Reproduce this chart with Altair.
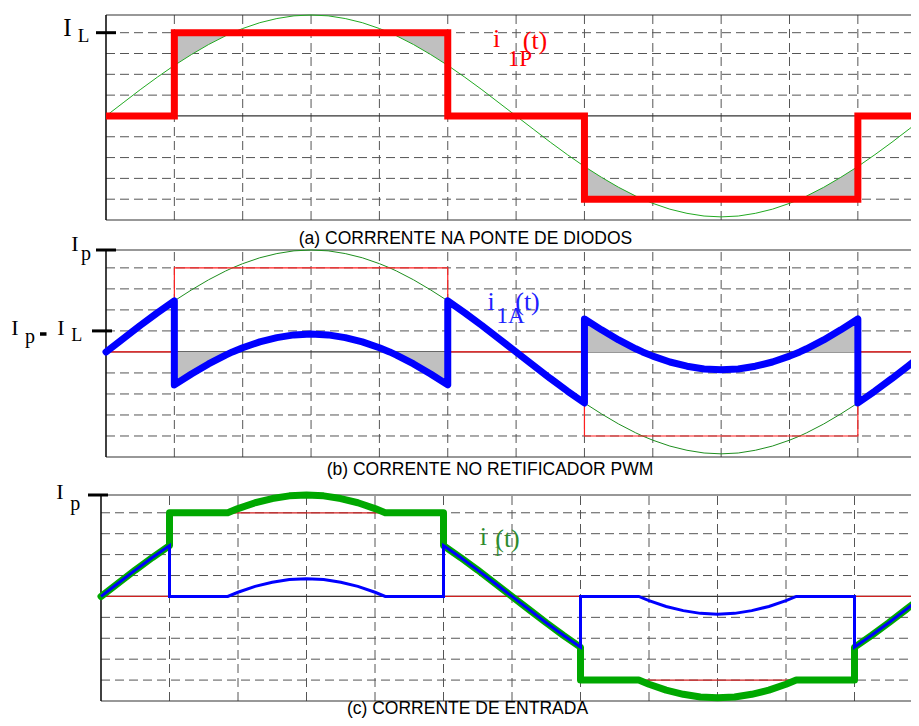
import altair as alt
import pandas as pd

# ---------------- values ----------------
I_P = 4.85          # peak of the sinusoidal input current (grid units)
I_L = 4.0           # level of the diode-bridge current
BOTTOM = -5.0       # lower frame of every panel

# sampling positions (1 grid unit = 30 electrical degrees)
t_grid = [i * 0.25 for i in range(49)]
sine_vals = [0.00, 0.63, 1.26, 1.86, 2.43, 2.95, 3.43, 3.85, 4.20, 4.48, 4.68, 4.81, 4.85,
             4.81, 4.68, 4.48, 4.20, 3.85, 3.43, 2.95, 2.43, 1.86, 1.26, 0.63, 0.00,
             -0.63, -1.26, -1.86, -2.43, -2.95, -3.43, -3.85, -4.20, -4.48, -4.68, -4.81, -4.85,
             -4.81, -4.68, -4.48, -4.20, -3.85, -3.43, -2.95, -2.43, -1.86, -1.26, -0.63, 0.00]
# points where the sine crosses +/- I_L
cross_t = [1.85, 4.15, 7.85, 10.15]
cross_v = [4.0, 4.0, -4.0, -4.0]

# square wave i_1P: segment bounds and levels
seg_bounds = [0, 1, 5, 7, 11, 12]
seg_level = [0, I_L, 0, -I_L, 0]

# shaded windows (sine inside the I_L band while the bridge conducts)
gray_windows = [(1, 1.85, I_L), (4.15, 5, I_L), (7, 7.85, -I_L), (10.15, 11, -I_L)]

grid_x = [1, 2, 3, 4, 5, 6, 7, 8, 9, 10, 11]
grid_y = [-4, -3, -2, -1, 1, 2, 3, 4]

# ---------------- tables ----------------
pts = sorted(zip(t_grid + cross_t, sine_vals + cross_v))


def seg_pts(a, b):
    return [(tt, v) for tt, v in pts if a - 1e-9 <= tt <= b + 1e-9]


df_sine = pd.DataFrame([{"x": tt, "y": v, "o": k} for k, (tt, v) in enumerate(pts)])

rows_red, rows_blue_b, rows_blue_c, rows_green_c = [], [], [], []
k = 0
for i, lev in enumerate(seg_level):
    a, b = seg_bounds[i], seg_bounds[i + 1]
    rows_red += [{"x": a, "y": lev, "o": 2 * i}, {"x": b, "y": lev, "o": 2 * i + 1}]
    for tt, v in seg_pts(a, b):
        k += 1
        rows_blue_b.append({"x": tt, "y": v - lev, "o": k})
        if lev > 0:
            bc = max(0.0, v - lev)
        elif lev < 0:
            bc = min(0.0, v - lev)
        else:
            bc = v
        rows_blue_c.append({"x": tt, "y": bc, "o": k})
        rows_green_c.append({"x": tt, "y": lev + bc, "o": k})

df_red = pd.DataFrame(rows_red)
df_blue_b = pd.DataFrame(rows_blue_b)
df_blue_c = pd.DataFrame(rows_blue_c)
df_green_c = pd.DataFrame(rows_green_c)

rows_ga, rows_gb = [], []
for g, (a, b, lev) in enumerate(gray_windows):
    for tt, v in seg_pts(a, b):
        rows_ga.append({"x": tt, "y": v, "y2": lev, "g": g})
        rows_gb.append({"x": tt, "y": v - lev, "y2": 0.0, "g": g})
df_gray_a = pd.DataFrame(rows_ga)
df_gray_b = pd.DataFrame(rows_gb)

df_vgrid = pd.DataFrame({"x": grid_x, "y0": BOTTOM, "y1": I_P})
df_hgrid = pd.DataFrame({"y": grid_y, "x0": 0, "x1": 12})
df_hframe = pd.DataFrame({"y": [I_P, 0.0, BOTTOM], "x0": 0, "x1": 12})
df_vframe = pd.DataFrame({"x": [0], "y0": [BOTTOM], "y1": [I_P]})
dummy = pd.DataFrame({"a": [0]})

# ---------------- scales ----------------
XS_AB = alt.Scale(domain=[0, 12], range=[0, 820.2], nice=False, zero=False)
XS_C = alt.Scale(domain=[0, 12], range=[-5, 817], nice=False, zero=False)
YS_A = alt.Scale(domain=[BOTTOM, I_P], range=[205, 0], nice=False, zero=False)
YS_B = alt.Scale(domain=[BOTTOM, I_P], range=[442, 235], nice=False, zero=False)
YS_C = alt.Scale(domain=[BOTTOM, I_P], range=[686, 480], nice=False, zero=False)

SERIF = "Liberation Serif"
SANS = "Liberation Sans"


def frame(xs, ys):
    vg = alt.Chart(df_vgrid).mark_rule(color="#555555", strokeWidth=1, strokeDash=[9, 5]).encode(
        x=alt.X("x:Q", scale=xs, axis=None), y=alt.Y("y0:Q", scale=ys, axis=None), y2="y1:Q")
    hg = alt.Chart(df_hgrid).mark_rule(color="#555555", strokeWidth=1, strokeDash=[9, 5]).encode(
        x=alt.X("x0:Q", scale=xs, axis=None), x2="x1:Q", y=alt.Y("y:Q", scale=ys, axis=None))
    hf = alt.Chart(df_hframe).mark_rule(color="#333333", strokeWidth=1.2).encode(
        x=alt.X("x0:Q", scale=xs, axis=None), x2="x1:Q", y=alt.Y("y:Q", scale=ys, axis=None))
    vf = alt.Chart(df_vframe).mark_rule(color="#111111", strokeWidth=1.6).encode(
        x=alt.X("x:Q", scale=xs, axis=None), y=alt.Y("y0:Q", scale=ys, axis=None), y2="y1:Q")
    return [vg, hg, hf, vf]


def line(df, xs, ys, color, width, cap="butt"):
    return alt.Chart(df).mark_line(color=color, strokeWidth=width, strokeCap=cap,
                                   strokeJoin="round" if cap == "round" else "miter").encode(
        x=alt.X("x:Q", scale=xs, axis=None), y=alt.Y("y:Q", scale=ys, axis=None), order="o:Q")


def gray(df, xs, ys):
    return alt.Chart(df).mark_area(color="#C0C0C0", opacity=1).encode(
        x=alt.X("x:Q", scale=xs, axis=None), y=alt.Y("y:Q", scale=ys, axis=None), y2="y2:Q",
        detail="g:N")


def tick(value, px0, px1, ys):
    return alt.Chart(pd.DataFrame({"y": [value]})).mark_rule(color="black", strokeWidth=3).encode(
        x=alt.value(px0), x2=alt.value(px1), y=alt.Y("y:Q", scale=ys, axis=None))


def label(txt, px, py, size, color="black", font=SERIF, baseline="alphabetic"):
    return alt.Chart(dummy).mark_text(text=txt, fontSize=size, font=font, color=color,
                                      align="center", baseline=baseline).encode(
        x=alt.value(px), y=alt.value(py))


def dash(px0, px1, py):
    return alt.Chart(dummy).mark_rule(color="black", strokeWidth=3.5).encode(
        x=alt.value(px0), x2=alt.value(px1), y=alt.value(py))


# ---------------- panel (a) ----------------
panel_a = alt.layer(
    *frame(XS_AB, YS_A),
    gray(df_gray_a, XS_AB, YS_A),
    line(df_sine, XS_AB, YS_A, "#22AA22", 1),
    line(df_red, XS_AB, YS_A, "#FF0000", 7),
    tick(I_L, -10, 10, YS_A),
    label("I", -38.5, 21, 25),
    label("L", -22.5, 27, 19),
    label("i", 390.5, 32, 26, "#FF0000"),
    label("(t)", 429, 34, 26, "#FF0000"),
    label("1P", 414, 51, 23, "#FF0000"),
    label("(a) CORRRENTE NA PONTE DE DIODOS", 359.5, 223.5, 17.5, "black", SANS, "middle"),
)

# ---------------- panel (b) ----------------
panel_b = alt.layer(
    *frame(XS_AB, YS_B),
    gray(df_gray_b, XS_AB, YS_B),
    line(df_sine, XS_AB, YS_B, "#1E8E1E", 1),
    line(df_red, XS_AB, YS_B, "#FF2020", 1.2),
    line(df_blue_b, XS_AB, YS_B, "#0000FF", 7, "round"),
    tick(I_P, -10, 10, YS_B),
    tick(1, -14, 6, YS_B),
    label("I", -31, 236, 22),
    label("p", -20, 245, 20),
    label("I", -91, 320, 22),
    label("p", -76, 328, 20),
    dash(-66, -59.5, 319),
    label("I", -45.2, 320, 22),
    label("L", -29.3, 326, 18),
    label("i", 385, 295, 26, "#2020FF"),
    label("(t)", 421.5, 295, 26, "#2020FF"),
    label("1A", 404.5, 308, 23, "#2020FF"),
    label("(b) CORRENTE NO RETIFICADOR PWM", 384, 455, 17.5, "black", SANS, "middle"),
)

# ---------------- panel (c) ----------------
panel_c = alt.layer(
    *frame(XS_C, YS_C),
    line(df_red, XS_C, YS_C, "#D02020", 1.2),
    line(df_green_c, XS_C, YS_C, "#00A800", 7, "round"),
    line(df_blue_c, XS_C, YS_C, "#0000FF", 3),
    tick(I_P, -18, 2, YS_C),
    label("I", -46, 484, 22),
    label("p", -30.7, 494.5, 20),
    label("i", 377.3, 530, 26, "#2E8B2E"),
    label("(t)", 401.5, 532, 26, "#2E8B2E"),
    label("1", 391.5, 541, 15, "#2E8B2E"),
    label("(c) CORRENTE DE ENTRADA", 361.5, 698.5, 17.5, "black", SANS, "alphabetic"),
)

chart = alt.layer(panel_a, panel_b, panel_c).resolve_scale(
    x="independent", y="independent"
).properties(
    width=805, height=686,
    padding={"left": 98, "top": 7, "right": 0, "bottom": 17},
    autosize=alt.AutoSizeParams(type="none"),
).configure_view(stroke=None)

chart.save("out.html", embed_options={"renderer": "svg", "actions": False})
